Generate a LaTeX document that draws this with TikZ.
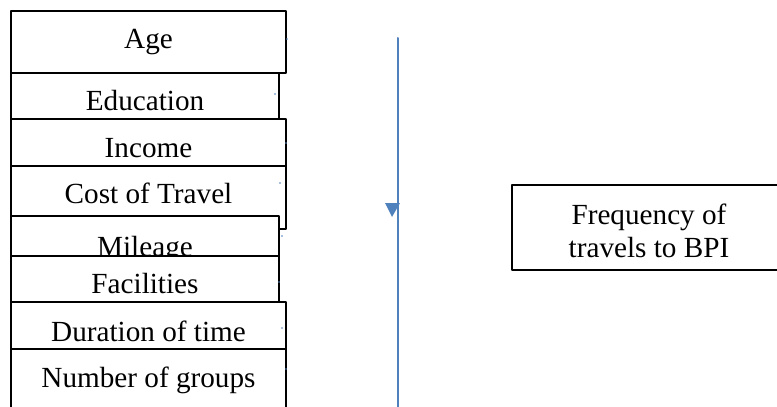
\documentclass[tikz,border=0pt]{standalone}
\usepackage{fontspec}
\setmainfont{Liberation Serif}
\definecolor{flowblue}{HTML}{4F81BD}
\begin{document}
\begin{tikzpicture}[line cap=round,line join=round,x=0.5pt,y=-0.5pt,
  varbox/.style={draw=black,line width=0.75pt,fill=white,line cap=butt},
  vartext/.style={anchor=base,inner sep=0pt,font=\fontsize{14.6}{15}\selectfont},
  flowline/.style={draw=flowblue,line width=1pt}]
\useasboundingbox (0,0) rectangle (777,407);
\clip (0,0) rectangle (777,407);
% stacked variable boxes
\foreach \top/\bot/\rgt/\base/\txt [count=\i] in
  {11/73/286/48/Age,
   73/119/279/110/Education,
   119/166/286/157/Income,
   166/229/286/203/Cost of Travel,
   216/256/279/256/Mileage,
   256/302/279/293/Facilities,
   302/349/286/341/Duration of time,
   349/420/286/387/Number of groups}
{
\draw[varbox] (11,\top) rectangle (\rgt,\bot);
\node[vartext] (var\i) at ({(11+\rgt)/2},\base) {\txt};
}
% small handles
\foreach \x/\y in {287/39,275/94,286/143,280/183,282/236,279/282,282/328,286/369}
{
\fill[flowblue] (\x,\y) circle (0.8);
}
% vertical line with its head
\coordinate (ltop) at (398,38);
\coordinate (lbot) at (398,410);
\draw[flowline] (ltop)--(lbot);
\fill[flowblue] (385,203)--(400,203)--(392,217)--cycle;
% outcome box
\draw[varbox] (512,185) rectangle (786,270);
\node[vartext] (freq) at (649,224) {Frequency of};
\node[vartext] (bpi) at (649,257) {travels to BPI};
\end{tikzpicture}
\end{document}
